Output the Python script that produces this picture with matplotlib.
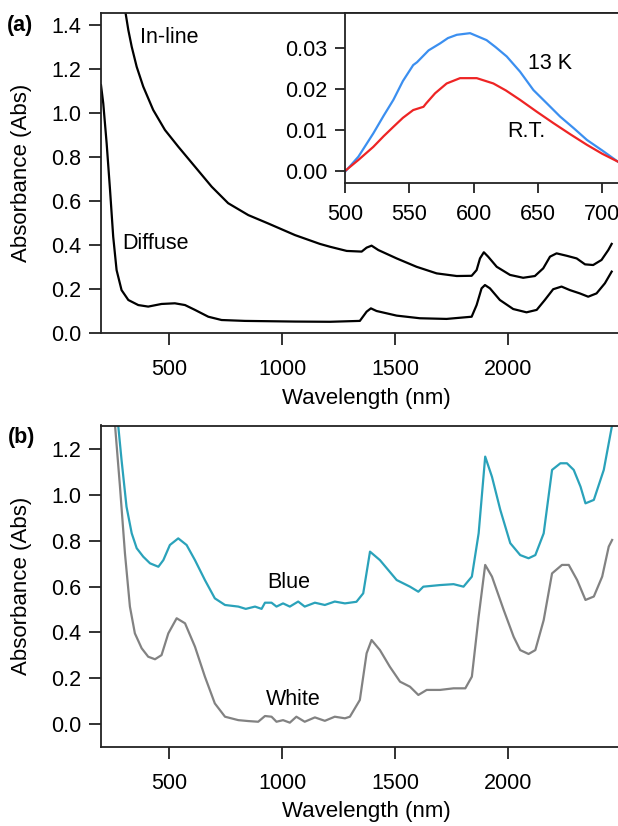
import matplotlib.pyplot as plt

plt.rcParams['font.family'] = ['Liberation Sans', 'DejaVu Sans']
plt.rcParams['font.size'] = 15.5

# (a) in-line and diffuse absorbance
inline_wl = [306, 318, 333, 355, 384, 428, 480, 539, 613, 687, 760, 849, 937, 1056, 1166,
             1211, 1285, 1351, 1373, 1395, 1425, 1506, 1594, 1683, 1772, 1838, 1860, 1875,
             1892, 1911, 1949, 2008, 2066, 2118, 2155, 2185, 2214, 2259, 2303, 2340, 2376,
             2413, 2443, 2458]
inline_abs = [1.453, 1.377, 1.301, 1.21, 1.12, 1.014, 0.923, 0.847, 0.756, 0.665, 0.59,
              0.536, 0.498, 0.445, 0.405, 0.392, 0.373, 0.37, 0.388, 0.397, 0.377, 0.339,
              0.301, 0.271, 0.259, 0.26, 0.286, 0.339, 0.367, 0.347, 0.301, 0.264, 0.251,
              0.259, 0.294, 0.347, 0.362, 0.351, 0.339, 0.312, 0.309, 0.332, 0.377, 0.405]

diffuse_wl = [197, 207, 222, 237, 251, 266, 288, 318, 362, 406, 465, 524, 569, 613, 672,
              731, 834, 1056, 1211, 1343, 1373, 1392, 1417, 1506, 1609, 1727, 1838, 1860,
              1882, 1897, 1919, 1963, 2022, 2081, 2126, 2162, 2199, 2236, 2273, 2317, 2354,
              2391, 2428, 2458]
diffuse_abs = [1.127, 1.044, 0.862, 0.65, 0.438, 0.286, 0.195, 0.15, 0.127, 0.12, 0.132,
               0.135, 0.127, 0.105, 0.074, 0.059, 0.055, 0.052, 0.051, 0.055, 0.097, 0.112,
               0.10, 0.079, 0.067, 0.064, 0.074, 0.127, 0.203, 0.218, 0.203, 0.15, 0.109,
               0.094, 0.105, 0.15, 0.199, 0.211, 0.195, 0.18, 0.165, 0.18, 0.226, 0.279]

# inset: 13 K vs room temperature
k13_wl = [500, 510.4, 522, 530, 537.6, 545, 553, 556, 565, 573.9, 580, 586.9, 597.2, 610,
          617, 625.7, 636, 646.4, 657, 667.2, 678, 688, 700, 712]
k13_abs = [-0.0002, 0.0035, 0.0092, 0.0135, 0.0174, 0.022, 0.0259, 0.0266, 0.0295, 0.0312,
           0.0325, 0.0333, 0.0337, 0.032, 0.0303, 0.028, 0.0243, 0.0198, 0.0165, 0.0133,
           0.0104, 0.0076, 0.005, 0.0023]
rt_wl = [500, 510.4, 522, 530, 537.6, 545, 553, 561, 563, 570, 579, 589.4, 602.4, 615.3,
         625, 636, 649, 662, 675, 688, 700, 712]
rt_abs = [0.0, 0.0027, 0.0059, 0.0085, 0.0108, 0.013, 0.0149, 0.0157, 0.0165, 0.019, 0.0214,
          0.0227, 0.0227, 0.0214, 0.0197, 0.0174, 0.0145, 0.0117, 0.009, 0.0064, 0.0042,
          0.0023]

# (b) blue and white samples
blue_wl = [273, 288, 310, 333, 355, 384, 414, 451, 473, 502, 539, 576, 613, 657, 701,
           746, 805, 838, 879, 908, 923, 952, 974, 1003, 1033, 1070, 1099, 1144, 1188,
           1232, 1277, 1328, 1358, 1388, 1432, 1506, 1565, 1602, 1624, 1698, 1758, 1802,
           1839, 1869, 1898, 1928, 1965, 2009, 2053, 2090, 2120, 2157, 2194, 2231, 2260,
           2290, 2320, 2342, 2379, 2423, 2460]
blue_abs = [1.306, 1.153, 0.949, 0.833, 0.768, 0.731, 0.702, 0.687, 0.716, 0.782, 0.811,
            0.782, 0.716, 0.629, 0.549, 0.52, 0.513, 0.503, 0.513, 0.503, 0.53, 0.53,
            0.513, 0.527, 0.513, 0.535, 0.513, 0.53, 0.52, 0.535, 0.527, 0.534, 0.571,
            0.753, 0.716, 0.629, 0.60, 0.578, 0.60, 0.607, 0.611, 0.60, 0.644, 0.833,
            1.168, 1.08, 0.935, 0.79, 0.738, 0.724, 0.738, 0.833, 1.11, 1.139, 1.139,
            1.11, 1.037, 0.964, 0.979, 1.11, 1.306]

white_wl = [259, 281, 303, 325, 347, 377, 406, 436, 465, 495, 532, 569, 613, 657, 701,
            746, 805, 849, 893, 923, 952, 974, 1003, 1033, 1062, 1099, 1144, 1188, 1232,
            1277, 1299, 1343, 1373, 1395, 1432, 1476, 1521, 1565, 1602, 1639, 1698, 1758,
            1810, 1839, 1869, 1898, 1928, 1980, 2024, 2053, 2090, 2120, 2157, 2194, 2238,
            2268, 2305, 2342, 2379, 2416, 2445, 2460]
white_abs = [1.306, 1.037, 0.746, 0.513, 0.396, 0.331, 0.294, 0.283, 0.301, 0.396, 0.462,
             0.44, 0.338, 0.207, 0.09, 0.032, 0.017, 0.013, 0.01, 0.035, 0.032, 0.01,
             0.017, 0.006, 0.032, 0.01, 0.029, 0.014, 0.032, 0.025, 0.032, 0.105, 0.309,
             0.367, 0.323, 0.25, 0.185, 0.163, 0.127, 0.149, 0.149, 0.156, 0.156, 0.207,
             0.469, 0.695, 0.644, 0.498, 0.381, 0.323, 0.306, 0.323, 0.454, 0.658, 0.695,
             0.695, 0.629, 0.542, 0.557, 0.644, 0.775, 0.804]

W, H = 618, 826
fig = plt.figure(figsize=(W / 100, H / 100), dpi=100)


def box(l, t, r, b):
    return [l / W, 1 - b / H, (r - l) / W, (b - t) / H]


def style(ax, tl=8.6, pad_x=10, pad_y=5.5):
    for s in ax.spines.values():
        s.set_linewidth(1.3)
        s.set_color('#222222')
    ax.tick_params(direction='out', length=tl, width=1.3, color='#222222')
    ax.tick_params(axis='x', pad=pad_x)
    ax.tick_params(axis='y', pad=pad_y)


# panel (a)
ax1 = fig.add_axes(box(101, 13, 625, 333))
ax1.plot(inline_wl, inline_abs, color='black', lw=1.6)
ax1.plot(diffuse_wl, diffuse_abs, color='black', lw=1.6)
ax1.set_xlim(197, 2517)
ax1.set_ylim(0, 1.4545)
ax1.set_xticks([500, 1000, 1500, 2000])
ax1.set_yticks([0.0, 0.2, 0.4, 0.6, 0.8, 1.0, 1.2, 1.4])
ax1.set_yticklabels(['0.0', '0.2', '0.4', '0.6', '0.8', '1.0', '1.2', '1.4'])
style(ax1)
ax1.set_xlabel('Wavelength (nm)', va='center', fontsize=16)
ax1.xaxis.set_label_coords(0.506, -0.206)
ax1.set_ylabel('Absorbance (Abs)', va='center', fontsize=16)
ax1.yaxis.set_label_coords(-0.151, 0.5)
ax1.text(369, 1.345, 'In-line', ha='left', va='center')
ax1.text(290, 0.409, 'Diffuse', ha='left', va='center')

# inset
ins = fig.add_axes(box(345, 13, 625, 182.7))
ins.plot(k13_wl, k13_abs, color='#3b8ff0', lw=1.6)
ins.plot(rt_wl, rt_abs, color='#ee2424', lw=1.6)
ins.set_xlim(500, 717.6)
ins.set_ylim(-0.00286, 0.03863)
ins.set_xticks([500, 550, 600, 650, 700])
ins.set_yticks([0.0, 0.01, 0.02, 0.03])
ins.set_yticklabels(['0.00', '0.01', '0.02', '0.03'])
style(ins, tl=7.5, pad_x=8, pad_y=5)
ins.text(642, 0.0264, '13 K', ha='left', va='center')
ins.text(626, 0.00954, 'R.T.', ha='left', va='center')

# panel (b)
ax2 = fig.add_axes(box(101, 425.5, 625, 746.7))
ax2.plot(blue_wl, blue_abs, color='#2aa2ba', lw=1.6)
ax2.plot(white_wl, white_abs, color='#828282', lw=1.6)
ax2.set_xlim(197, 2517)
ax2.set_ylim(-0.099, 1.304)
ax2.set_xticks([500, 1000, 1500, 2000])
ax2.set_yticks([0.0, 0.2, 0.4, 0.6, 0.8, 1.0, 1.2])
ax2.set_yticklabels(['0.0', '0.2', '0.4', '0.6', '0.8', '1.0', '1.2'])
style(ax2)
ax2.set_xlabel('Wavelength (nm)', va='center', fontsize=16)
ax2.xaxis.set_label_coords(0.506, -0.2024)
ax2.set_ylabel('Absorbance (Abs)', va='center', fontsize=16)
ax2.yaxis.set_label_coords(-0.151, 0.5)
ax2.text(932, 0.617, 'Blue', ha='left', va='center')
ax2.text(927, 0.105, 'White', ha='left', va='center')

fig.text(7 / W, 1 - 25 / H, '(a)', fontweight='bold', ha='left', va='center')
fig.text(8 / W, 1 - 438 / H, '(b)', fontweight='bold', ha='left', va='center')

fig.savefig('out.png', dpi=100)
